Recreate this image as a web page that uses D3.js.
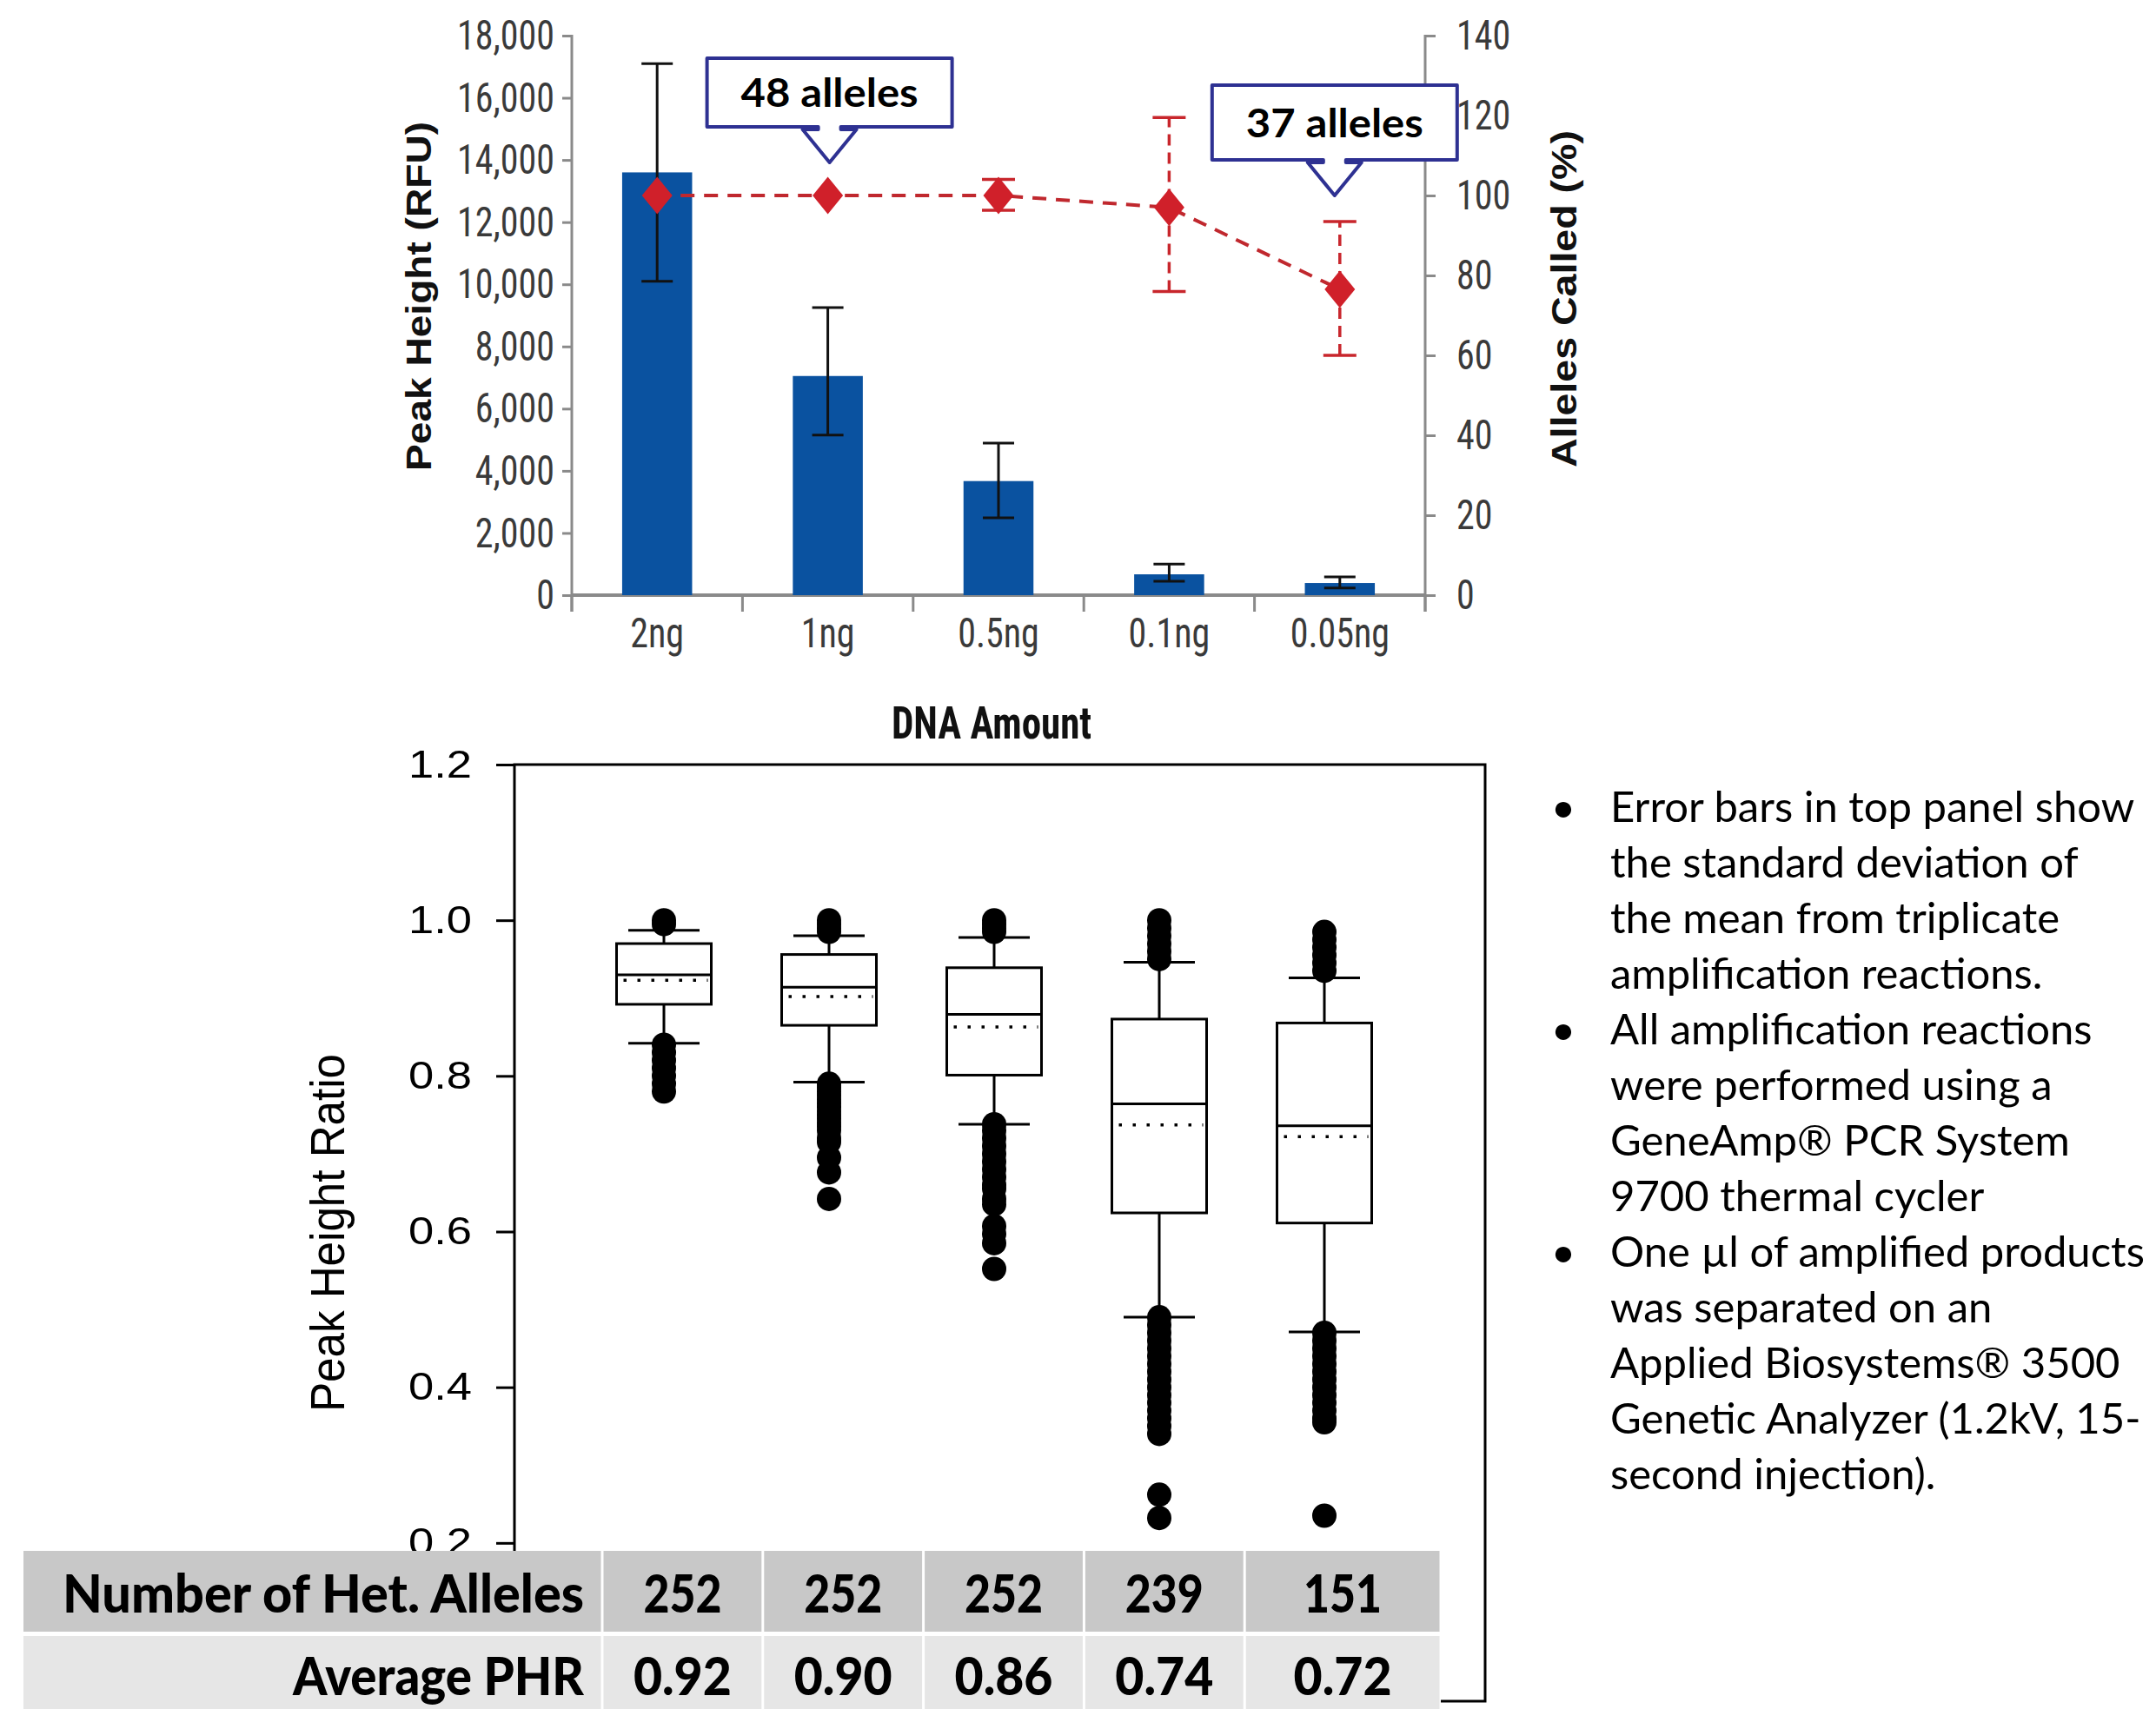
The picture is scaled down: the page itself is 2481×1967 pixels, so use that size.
<!DOCTYPE html>
<html><head><meta charset="utf-8">
<script src="https://cdn.jsdelivr.net/npm/d3@7"></script>
<style>body{margin:0;background:#fff}svg{display:block}</style>
</head><body>
<svg id="chart" width="2481" height="1967"></svg>
<script>
// ---------------- DATA ----------------
const categories = ["2ng", "1ng", "0.5ng", "0.1ng", "0.05ng"];
const peakHeight   = [13600, 7050, 3670, 670, 390];
const peakErrLow   = [10100, 5150, 2490, 450, 230];
const peakErrHigh  = [17100, 9250, 4890, 1000, 590];
const allelesCalled   = [100, 100, 100, 97, 76.5];
const allelesErrLow   = [100, 100, 96.3, 76, 60];
const allelesErrHigh  = [100, 100, 104, 119.5, 93.5];
const leftTicks  = [0, 2000, 4000, 6000, 8000, 10000, 12000, 14000, 16000, 18000];
const rightTicks = [0, 20, 40, 60, 80, 100, 120, 140];
const callouts = [{cat: "1ng", text: "48 alleles"}, {cat: "0.05ng", text: "37 alleles"}];

const boxQ1       = [0.892, 0.865, 0.801, 0.624, 0.611];
const boxMedian   = [0.930, 0.914, 0.879, 0.764, 0.736];
const boxQ3       = [0.970, 0.956, 0.939, 0.873, 0.868];
const boxMean     = [0.923, 0.902, 0.863, 0.737, 0.722];
const whiskerLow  = [0.842, 0.792, 0.738, 0.490, 0.471];
const whiskerHigh = [0.987, 0.980, 0.978, 0.946, 0.926];
const outliers = [
  [1.0, 0.995, 0.84, 0.83, 0.82, 0.81, 0.80, 0.79, 0.78],
  [1.0, 0.995, 0.99, 0.985, 0.79, 0.785, 0.78, 0.775, 0.77, 0.765, 0.76, 0.755, 0.75, 0.745, 0.74, 0.735, 0.73, 0.72, 0.715, 0.695, 0.676, 0.642],
  [1.0, 0.995, 0.99, 0.985, 0.738, 0.73, 0.72, 0.71, 0.70, 0.69, 0.68, 0.67, 0.66, 0.655, 0.642, 0.635, 0.607, 0.597, 0.585, 0.552],
  [1.0, 0.99, 0.98, 0.97, 0.96, 0.95, 0.49, 0.48, 0.47, 0.46, 0.45, 0.44, 0.43, 0.42, 0.41, 0.40, 0.39, 0.38, 0.37, 0.36, 0.35, 0.34, 0.262, 0.232],
  [0.985, 0.975, 0.965, 0.955, 0.945, 0.935, 0.47, 0.46, 0.45, 0.44, 0.43, 0.42, 0.41, 0.40, 0.39, 0.38, 0.37, 0.36, 0.355, 0.235]
];
const phrTicks = [0.2, 0.4, 0.6, 0.8, 1.0, 1.2];

const tableRowLabels = ["Number of Het. Alleles", "Average PHR"];
const hetAlleles = ["252", "252", "252", "239", "151"];
const averagePHR = ["0.92", "0.90", "0.86", "0.74", "0.72"];

const notes = [
  ["Error bars in top panel show", "the standard deviation of", "the mean from triplicate", "amplification reactions."],
  ["All amplification reactions", "were performed using a", "GeneAmp\u00AE PCR System", "9700 thermal cycler"],
  ["One \u00B5l of amplified products", "was separated on an", "Applied Biosystems\u00AE 3500", "Genetic Analyzer (1.2kV, 15-", "second injection)."]
];

// ---------------- STYLE ----------------
const narrow = "'Liberation Sans Narrow','Arial Narrow','Roboto Condensed',sans-serif";
const arial = "'Liberation Sans',Arial,sans-serif";
const calib = "Lato,'Open Sans',sans-serif";
const stretchY = 1.16;
const axisGray = "#8a8a8a";

const svg = d3.select("#chart");

// ================ TOP CHART ================
const plotL = 658, plotR = 1640, baseY = 685, topY = 41;
const x = d3.scaleBand().domain(categories).range([plotL, plotR]).padding(0);
const yL = d3.scaleLinear().domain([0, 18000]).range([baseY, topY]);
const yR = d3.scaleLinear().domain([0, 140]).range([baseY, topY]);
const bw = x.bandwidth();
const barW = bw * 0.41;
const cx = c => x(c) + bw / 2;

const gT = svg.append("g");

// left axis
const gL = gT.append("g").attr("transform", `translate(${plotL},0)`)
  .call(d3.axisLeft(yL).tickValues(leftTicks).tickFormat(d3.format(",")).tickSize(11).tickPadding(9).tickSizeOuter(0));
gL.select(".domain").remove();
gL.selectAll(".tick line").attr("stroke", axisGray).attr("stroke-width", 3);
gL.selectAll(".tick text").attr("font-family", narrow).attr("font-size", 42).attr("fill", "#3a3a3a")
  .attr("transform", `scale(1,${stretchY})`);
gT.append("line").attr("x1", plotL).attr("x2", plotL).attr("y1", yL(18000) - 1).attr("y2", baseY + 19)
  .attr("stroke", axisGray).attr("stroke-width", 3);

// right axis
const gR = gT.append("g").attr("transform", `translate(${plotR},0)`)
  .call(d3.axisRight(yR).tickValues(rightTicks).tickSize(12).tickPadding(24).tickSizeOuter(0));
gR.select(".domain").remove();
gR.selectAll(".tick line").attr("stroke", axisGray).attr("stroke-width", 3);
gR.selectAll(".tick text").attr("font-family", narrow).attr("font-size", 42).attr("fill", "#3a3a3a")
  .attr("transform", `scale(1,${stretchY})`);
gT.append("line").attr("x1", plotR).attr("x2", plotR).attr("y1", yR(140) - 1).attr("y2", baseY + 19)
  .attr("stroke", axisGray).attr("stroke-width", 3);

// x axis baseline + boundary ticks
gT.append("line").attr("x1", plotL).attr("x2", plotR).attr("y1", baseY).attr("y2", baseY)
  .attr("stroke", axisGray).attr("stroke-width", 4);
const bounds = categories.map(c => x(c)).concat([x.range()[1]]);
gT.selectAll(".xb").data(bounds).join("line").attr("class", "xb")
  .attr("x1", d => d).attr("x2", d => d).attr("y1", baseY).attr("y2", baseY + 19)
  .attr("stroke", axisGray).attr("stroke-width", 3);
gT.selectAll(".xl").data(categories).join("text").attr("class", "xl")
  .attr("transform", d => `translate(${cx(d)},${baseY + 60}) scale(1,${stretchY})`)
  .attr("text-anchor", "middle").attr("font-family", narrow).attr("font-size", 42).attr("fill", "#3a3a3a")
  .text(d => d);

// axis titles
gT.append("text").attr("transform", `translate(496,341) rotate(-90)`)
  .attr("text-anchor", "middle").attr("font-family", arial).attr("font-weight", "bold")
  .attr("font-size", 40).attr("textLength", 402).attr("lengthAdjust", "spacingAndGlyphs")
  .attr("fill", "#111").text("Peak Height (RFU)");
gT.append("text").attr("transform", `translate(1814,344) rotate(-90)`)
  .attr("text-anchor", "middle").attr("font-family", arial).attr("font-weight", "bold")
  .attr("font-size", 40).attr("textLength", 388).attr("lengthAdjust", "spacingAndGlyphs")
  .attr("fill", "#111").text("Alleles Called (%)");
gT.append("text").attr("transform", `translate(1141,850) scale(1,${stretchY})`)
  .attr("text-anchor", "middle").attr("font-family", narrow).attr("font-weight", "bold")
  .attr("font-size", 45).attr("fill", "#111").text("DNA Amount");

// bars
gT.selectAll(".bar").data(categories).join("rect").attr("class", "bar")
  .attr("x", d => cx(d) - barW / 2).attr("width", barW)
  .attr("y", (d, i) => yL(peakHeight[i])).attr("height", (d, i) => baseY - yL(peakHeight[i]))
  .attr("fill", "#0a52a0");
// bar error bars
const eb = gT.selectAll(".eb").data(categories).join("g").attr("class", "eb")
  .attr("stroke", "#111").attr("stroke-width", 3);
eb.append("line").attr("x1", d => cx(d)).attr("x2", d => cx(d))
  .attr("y1", (d, i) => yL(peakErrLow[i])).attr("y2", (d, i) => yL(peakErrHigh[i]));
eb.append("line").attr("x1", d => cx(d) - 18).attr("x2", d => cx(d) + 18)
  .attr("y1", (d, i) => yL(peakErrLow[i])).attr("y2", (d, i) => yL(peakErrLow[i]));
eb.append("line").attr("x1", d => cx(d) - 18).attr("x2", d => cx(d) + 18)
  .attr("y1", (d, i) => yL(peakErrHigh[i])).attr("y2", (d, i) => yL(peakErrHigh[i]));

// red line
const redPts = categories.map((c, i) => [cx(c), yR(allelesCalled[i])]);
gT.append("path").attr("d", d3.line()(redPts)).attr("fill", "none")
  .attr("stroke", "#c0282e").attr("stroke-width", 4).attr("stroke-dasharray", "16,11");
// red error bars
const rIdx = categories.map((c, i) => i).filter(i => allelesErrHigh[i] > allelesErrLow[i]);
const reb = gT.selectAll(".reb").data(rIdx).join("g").attr("class", "reb")
  .attr("stroke", "#c8262c").attr("stroke-width", 3.5);
reb.append("line").attr("x1", i => cx(categories[i])).attr("x2", i => cx(categories[i]))
  .attr("y1", i => yR(allelesErrLow[i])).attr("y2", i => yR(allelesErrHigh[i]))
  .attr("stroke-dasharray", "13,8");
reb.append("line").attr("x1", i => cx(categories[i]) - 19).attr("x2", i => cx(categories[i]) + 19)
  .attr("y1", i => yR(allelesErrLow[i])).attr("y2", i => yR(allelesErrLow[i]));
reb.append("line").attr("x1", i => cx(categories[i]) - 19).attr("x2", i => cx(categories[i]) + 19)
  .attr("y1", i => yR(allelesErrHigh[i])).attr("y2", i => yR(allelesErrHigh[i]));
// diamonds
gT.selectAll(".dia").data(redPts).join("path").attr("class", "dia")
  .attr("d", p => `M${p[0]},${p[1] - 21.5}L${p[0] + 17.5},${p[1]}L${p[0]},${p[1] + 21.5}L${p[0] - 17.5},${p[1]}Z`)
  .attr("fill", "#d0202a");

// callouts
const calloutLayout = [{dx: 2, top: 67, h: 79}, {dx: -6, top: 98, h: 86}];
callouts.forEach((co, k) => {
  const L = calloutLayout[k];
  const c = cx(co.cat) + L.dx, hw = 141, t = L.top, b = L.top + L.h;
  const d = `M${c - hw},${t}H${c + hw}V${b}H${c + 13}V${b + 3}H${c + 31}L${c},${b + 41}L${c - 31},${b + 3}H${c - 13}V${b}H${c - hw}Z`;
  gT.append("path").attr("d", d).attr("fill", "#fff").attr("stroke", "#2e3192")
    .attr("stroke-width", 4).attr("stroke-linejoin", "round");
  gT.append("text").attr("x", c).attr("y", t + L.h / 2 + 16.5).attr("text-anchor", "middle")
    .attr("font-family", calib).attr("font-weight", "bold").attr("font-size", 46)
    .attr("textLength", 204).attr("lengthAdjust", "spacingAndGlyphs").attr("fill", "#000").text(co.text);
});

// ================ BOTTOM CHART ================
const fL = 592, fR = 1709, fT = 880, fB = 1958;
const yB = d3.scaleLinear().domain([0, 1.2]).range([1955, fT]);
const xB = d3.scalePoint().domain(categories).range([764, 1524]);
const boxW = 109, capW = 82;
const gB = svg.append("g");

gB.append("rect").attr("x", fL).attr("y", fT).attr("width", fR - fL).attr("height", fB - fT)
  .attr("fill", "none").attr("stroke", "#000").attr("stroke-width", 3);
const gYB = gB.append("g").attr("transform", `translate(${fL},0)`)
  .call(d3.axisLeft(yB).tickValues(phrTicks).tickFormat(d3.format(".1f")).tickSize(21).tickPadding(28).tickSizeOuter(0));
gYB.select(".domain").remove();
gYB.selectAll(".tick line").attr("stroke", "#000").attr("stroke-width", 3);
gYB.selectAll(".tick text").attr("font-family", arial).attr("font-size", 44).attr("fill", "#000")
  .attr("textLength", 73).attr("lengthAdjust", "spacingAndGlyphs");
gB.append("text").attr("transform", "translate(396,1419) rotate(-90)").attr("text-anchor", "middle")
  .attr("font-family", arial).attr("font-size", 55).attr("textLength", 412).attr("lengthAdjust", "spacingAndGlyphs")
  .attr("fill", "#000").text("Peak Height Ratio");

const bx = gB.selectAll(".bx").data(categories).join("g").attr("class", "bx")
  .attr("stroke", "#000").attr("stroke-width", 3);
bx.append("line").attr("x1", d => xB(d)).attr("x2", d => xB(d))
  .attr("y1", (d, i) => yB(boxQ3[i])).attr("y2", (d, i) => yB(whiskerHigh[i]));
bx.append("line").attr("x1", d => xB(d)).attr("x2", d => xB(d))
  .attr("y1", (d, i) => yB(boxQ1[i])).attr("y2", (d, i) => yB(whiskerLow[i]));
bx.append("line").attr("x1", d => xB(d) - capW / 2).attr("x2", d => xB(d) + capW / 2)
  .attr("y1", (d, i) => yB(whiskerHigh[i])).attr("y2", (d, i) => yB(whiskerHigh[i]));
bx.append("line").attr("x1", d => xB(d) - capW / 2).attr("x2", d => xB(d) + capW / 2)
  .attr("y1", (d, i) => yB(whiskerLow[i])).attr("y2", (d, i) => yB(whiskerLow[i]));
bx.append("rect").attr("x", d => xB(d) - boxW / 2).attr("width", boxW)
  .attr("y", (d, i) => yB(boxQ3[i])).attr("height", (d, i) => yB(boxQ1[i]) - yB(boxQ3[i]))
  .attr("fill", "#fff");
bx.append("line").attr("x1", d => xB(d) - boxW / 2).attr("x2", d => xB(d) + boxW / 2)
  .attr("y1", (d, i) => yB(boxMedian[i])).attr("y2", (d, i) => yB(boxMedian[i]));
bx.append("line").attr("x1", d => xB(d) - boxW / 2 + 8).attr("x2", d => xB(d) + boxW / 2 - 4)
  .attr("y1", (d, i) => yB(boxMean[i])).attr("y2", (d, i) => yB(boxMean[i]))
  .attr("stroke-width", 3.5).attr("stroke-dasharray", "3.5,12.5");
const dots = categories.flatMap((c, i) => outliers[i].map(v => ({c, v})));
gB.selectAll(".ol").data(dots).join("circle").attr("class", "ol")
  .attr("cx", d => xB(d.c)).attr("cy", d => yB(d.v)).attr("r", 14).attr("fill", "#000");

// ================ TABLE ================
const tL = 27, tLabelR = 693, tR = 1658;
const xT = d3.scaleBand().domain(categories).range([tLabelR, 1617]);
const rows = [{y: 1785, h: 93, fill: "#c8c8c8", label: tableRowLabels[0], labelLen: 600, vals: hetAlleles, base: 1856},
              {y: 1883, h: 90, fill: "#e6e6e6", label: tableRowLabels[1], labelLen: 335, vals: averagePHR, base: 1951}];
const gTab = svg.append("g");
gTab.append("rect").attr("x", tL).attr("y", 1785).attr("width", tR - tL).attr("height", 1967 - 1785).attr("fill", "#fff");
const numLen = s => s.split("").reduce((a, ch) => a + (ch === "." ? 23 : 30), 0);
function tableText(sel, len) {
  sel.attr("font-family", calib).attr("font-weight", 900).attr("font-size", 60).attr("fill", "#000")
    .attr("textLength", len).attr("lengthAdjust", "spacingAndGlyphs");
}
rows.forEach(r => {
  gTab.append("rect").attr("x", tL).attr("y", r.y).attr("width", tLabelR - tL - 1.5).attr("height", r.h).attr("fill", r.fill);
  categories.forEach((c, i) => {
    const x0 = xT(c) + 1.5, x1 = (i === categories.length - 1 ? tR : xT(c) + xT.bandwidth()) - 1.5;
    gTab.append("rect").attr("x", x0).attr("y", r.y).attr("width", x1 - x0).attr("height", r.h).attr("fill", r.fill);
    gTab.append("text").attr("x", (x0 + x1) / 2).attr("y", r.base).attr("text-anchor", "middle")
      .text(r.vals[i]).call(tableText, numLen(r.vals[i]));
  });
  gTab.append("text").attr("x", 672).attr("y", r.base).attr("text-anchor", "end").text(r.label).call(tableText, r.labelLen);
});

// ================ NOTES ================
const gN = svg.append("g").attr("font-family", calib).attr("font-size", 49).attr("fill", "#000");
let line = 0;
notes.forEach(par => {
  gN.append("text").attr("x", 1799).attr("y", 946 + line * 64).attr("text-anchor", "middle").text("\u2022");
  par.forEach(t => {
    gN.append("text").attr("x", 1853).attr("y", 946 + line * 64).text(t);
    line++;
  });
});
</script>
</body></html>
